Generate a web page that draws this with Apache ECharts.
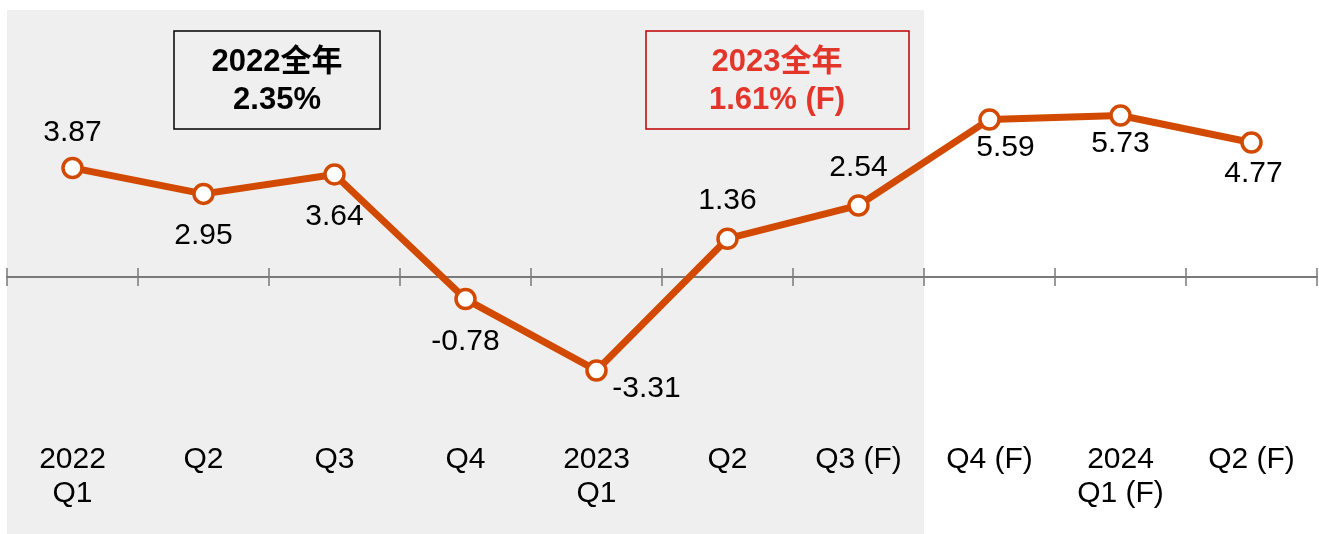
<!DOCTYPE html>
<html>
<head>
<meta charset="utf-8">
<script src="https://cdn.jsdelivr.net/npm/echarts@6/dist/echarts.min.js"></script>
<style>
  html, body { margin: 0; padding: 0; background: #fff; }
  #chart { width: 1319px; height: 534px; }
</style>
</head>
<body>
<div id="chart"></div>
<script>
// 季度
const categories = ['2022\nQ1', 'Q2', 'Q3', 'Q4', '2023\nQ1', 'Q2', 'Q3 (F)', 'Q4 (F)', '2024\nQ1 (F)', 'Q2 (F)']
// 同比增速 (%)
const growth = [3.87, 2.95, 3.64, -0.78, -3.31, 1.36, 2.54, 5.59, 5.73, 4.77]
// 灰色底: 第一个到最后一个灰色季度
const shadedFrom = 0
const shadedTo = 6
// 全年注释
const annualNotes = [
  { title: '2022全年', value: '2.35%' },
  { title: '2023全年', value: '1.61% (F)' }
]

const fontFamily = '"Liberation Sans", Arial, "Noto Sans CJK SC", sans-serif'
const yMin = -9.11
const yMax = 9.47

// 数据标签相对点的偏移
const labelOffsets = [
  [0, -35], [0, 42], [0, 42], [0, 43], [50, 18],
  [0, -38], [0, -38], [16, 28], [0, 28], [2, 31]
]

const chart = echarts.init(document.getElementById('chart'))

const tickStyle = { color: '#7a7a7a', width: 1.5 }
const lineStyle = { color: '#7a7a7a', width: 2 }

const option = {
  animation: false,
  backgroundColor: '#fff',
  grid: {
    left: 7,
    right: 2,
    top: 10,
    bottom: 0,
    containLabel: false,
    outerBoundsMode: 'none'
  },
  xAxis: [
    {
      // 零线 + 向下的刻度
      type: 'category',
      data: categories,
      boundaryGap: true,
      position: 'bottom',
      z: 3,
      axisLine: { onZero: true, onZeroAxisIndex: 0, lineStyle: lineStyle },
      axisTick: { show: true, length: 9, lineStyle: tickStyle },
      axisLabel: { show: false },
      splitLine: { show: false }
    },
    {
      // 零线 + 向上的刻度
      type: 'category',
      data: categories,
      boundaryGap: true,
      position: 'top',
      z: 3,
      axisLine: { onZero: true, onZeroAxisIndex: 1, lineStyle: lineStyle },
      axisTick: { show: true, length: 9, lineStyle: tickStyle },
      axisLabel: { show: false },
      splitLine: { show: false }
    },
    {
      // 灰色底用的隐藏数值轴
      type: 'value',
      show: false,
      min: 0,
      max: categories.length
    },
    {
      // 底部季度标签
      type: 'category',
      data: categories,
      boundaryGap: true,
      position: 'bottom',
      z: 3,
      axisLine: { show: false, onZero: false },
      axisTick: { show: false },
      axisLabel: {
        show: true,
        inside: true,
        interval: 0,
        margin: 91,
        verticalAlign: 'top',
        color: '#000',
        fontSize: 30,
        lineHeight: 34,
        fontFamily: fontFamily
      },
      splitLine: { show: false }
    }
  ],
  yAxis: [
    { type: 'value', show: false, min: yMin, max: yMax, splitLine: { show: false } },
    { type: 'value', show: false, min: yMin, max: yMax, splitLine: { show: false } }
  ],
  series: [
    {
      type: 'line',
      xAxisIndex: 2,
      yAxisIndex: 0,
      data: [],
      silent: true,
      markArea: {
        silent: true,
        itemStyle: { color: '#efefef' },
        data: [[{ xAxis: shadedFrom }, { xAxis: shadedTo + 1 }]]
      },
      z: 1
    },
    {
      type: 'line',
      xAxisIndex: 0,
      yAxisIndex: 0,
      data: growth.map((v, i) => ({
        value: v,
        label: { offset: labelOffsets[i] }
      })),
      z: 5,
      lineStyle: { color: '#D24A00', width: 7 },
      symbol: 'circle',
      symbolSize: 19,
      itemStyle: {
        color: '#fff',
        borderColor: '#D24A00',
        borderWidth: 3.5
      },
      label: {
        show: true,
        position: 'inside',
        color: '#000',
        fontSize: 30,
        fontFamily: fontFamily,
        formatter: p => p.value.toFixed(2)
      }
    }
  ],
  graphic: [
    {
      type: 'rect',
      shape: { x: 174, y: 31, width: 206, height: 98 },
      style: { fill: 'none', stroke: '#000', lineWidth: 1.5 },
      z: 10
    },
    {
      type: 'text',
      x: 277,
      y: 81,
      style: {
        text: annualNotes[0].title + '\n' + annualNotes[0].value,
        fill: '#000',
        font: 'bold 31px ' + fontFamily,
        lineHeight: 38,
        align: 'center',
        verticalAlign: 'middle'
      },
      z: 10
    },
    {
      type: 'rect',
      shape: { x: 646, y: 31, width: 263, height: 98 },
      style: { fill: 'none', stroke: '#C00000', lineWidth: 1.5 },
      z: 10
    },
    {
      type: 'text',
      x: 777,
      y: 81,
      style: {
        text: annualNotes[1].title + '\n' + annualNotes[1].value,
        fill: '#E3352A',
        font: 'bold 31px ' + fontFamily,
        lineHeight: 38,
        align: 'center',
        verticalAlign: 'middle'
      },
      z: 10
    }
  ]
}

chart.setOption(option)
</script>
</body>
</html>
